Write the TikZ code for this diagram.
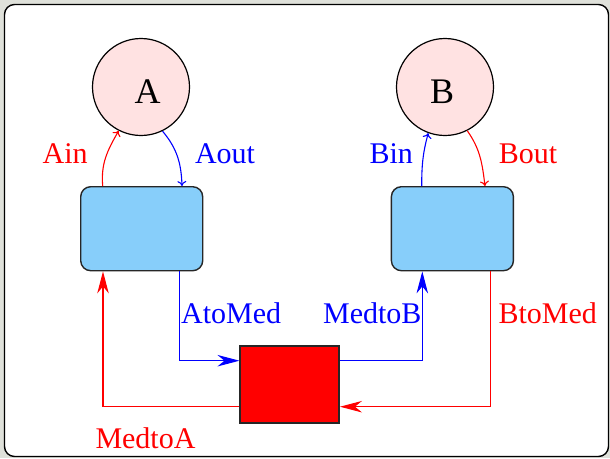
\documentclass[tikz,border=0pt]{standalone}
\usepackage{fontspec}
\setmainfont{Liberation Serif}
\usetikzlibrary{arrows.meta}
\definecolor{pagegrey}{HTML}{DFE1DA}
\definecolor{circfill}{HTML}{FFE2E2}
\definecolor{boxblue}{HTML}{87CEFA}
\definecolor{medred}{HTML}{FF0000}
\begin{document}
\begin{tikzpicture}[x=1pt,y=-1pt,
  proc/.style={circle,draw=black,line width=1.2pt,fill=circfill,minimum size=97pt,inner sep=0pt},
  proclabel/.style={inner sep=0pt,font=\fontsize{36}{40}\selectfont},
  port/.style={rectangle,rounded corners=10pt,draw=black!85,line width=1.4pt,fill=boxblue,minimum width=122pt,minimum height=84pt,inner sep=0pt},
  medbox/.style={rectangle,draw=black!85,line width=1.5pt,fill=medred,minimum width=99pt,minimum height=77pt,inner sep=0pt},
  lbl/.style={inner sep=0pt,font=\fontsize{30}{34}\selectfont},
  big/.style={line width=1.1pt,-{Stealth[length=22pt,width=11.5pt,inset=7pt]}},
  small/.style={line width=1.1pt,-{Computer Modern Rightarrow[length=5pt,width=9pt]}}
]
\useasboundingbox (0,0) rectangle (610,458);
\fill[pagegrey] (0,0) rectangle (610,458);
\draw[fill=white,line width=1.4pt,rounded corners=10pt] (4.5,4.5) rectangle (608.5,456.5);

\node[proc,label={[proclabel,xshift=6.5pt,yshift=-4.6pt]center:A}] (A) at (141,87) {};
\node[proc,label={[proclabel,xshift=-3pt,yshift=-4.6pt]center:B}] (B) at (445,87) {};
\node[port] (boxA) at (141.7,228.7) {};
\node[port] (boxB) at (452.4,228.7) {};
\node[medbox] (med) at (289.7,384.3) {};

% curved arrows between processes and ports
\draw[small,red] ([xshift=-39pt]boxA.north) to[out=95,in=-120] (A.-117);
\draw[small,blue] (A.-64) to[out=-50,in=92] ([xshift=40.3pt]boxA.north);
\draw[small,blue] ([xshift=-30.7pt]boxB.north) to[out=90,in=-105] (B.-110);
\draw[small,red] (B.-63) to[out=-55,in=97] ([xshift=32.6pt]boxB.north);

% orthogonal arrows through the medium
\draw[big,blue] ([xshift=37.6pt]boxA.south) |- ([yshift=23.6pt]med.west);
\draw[big,blue] ([yshift=23.6pt]med.east) -| ([xshift=-30.1pt]boxB.south);
\draw[big,red] ([xshift=38.3pt]boxB.south) |- ([yshift=-22.4pt]med.east);
\draw[big,red] ([yshift=-22.4pt]med.west) -| ([xshift=-38.7pt]boxA.south);

% labels
\node[lbl,red,anchor=base] (lAin) at (65.2,163.3) {Ain};
\node[lbl,blue,anchor=base] (lAout) at (225,163.3) {Aout};
\node[lbl,blue,anchor=base] (lBin) at (391.2,163.3) {Bin};
\node[lbl,red,anchor=base] (lBout) at (528,163.3) {Bout};
\node[lbl,blue,anchor=base west] (lAtoMed) at (181,323.3) {AtoMed};
\node[lbl,blue,anchor=base east] (lMedtoB) at (421.7,323.3) {MedtoB};
\node[lbl,red,anchor=base west] (lBtoMed) at (498.3,323.3) {BtoMed};
\node[lbl,red,anchor=base] (lMedtoA) at (145.5,448) {MedtoA};
\end{tikzpicture}
\end{document}
